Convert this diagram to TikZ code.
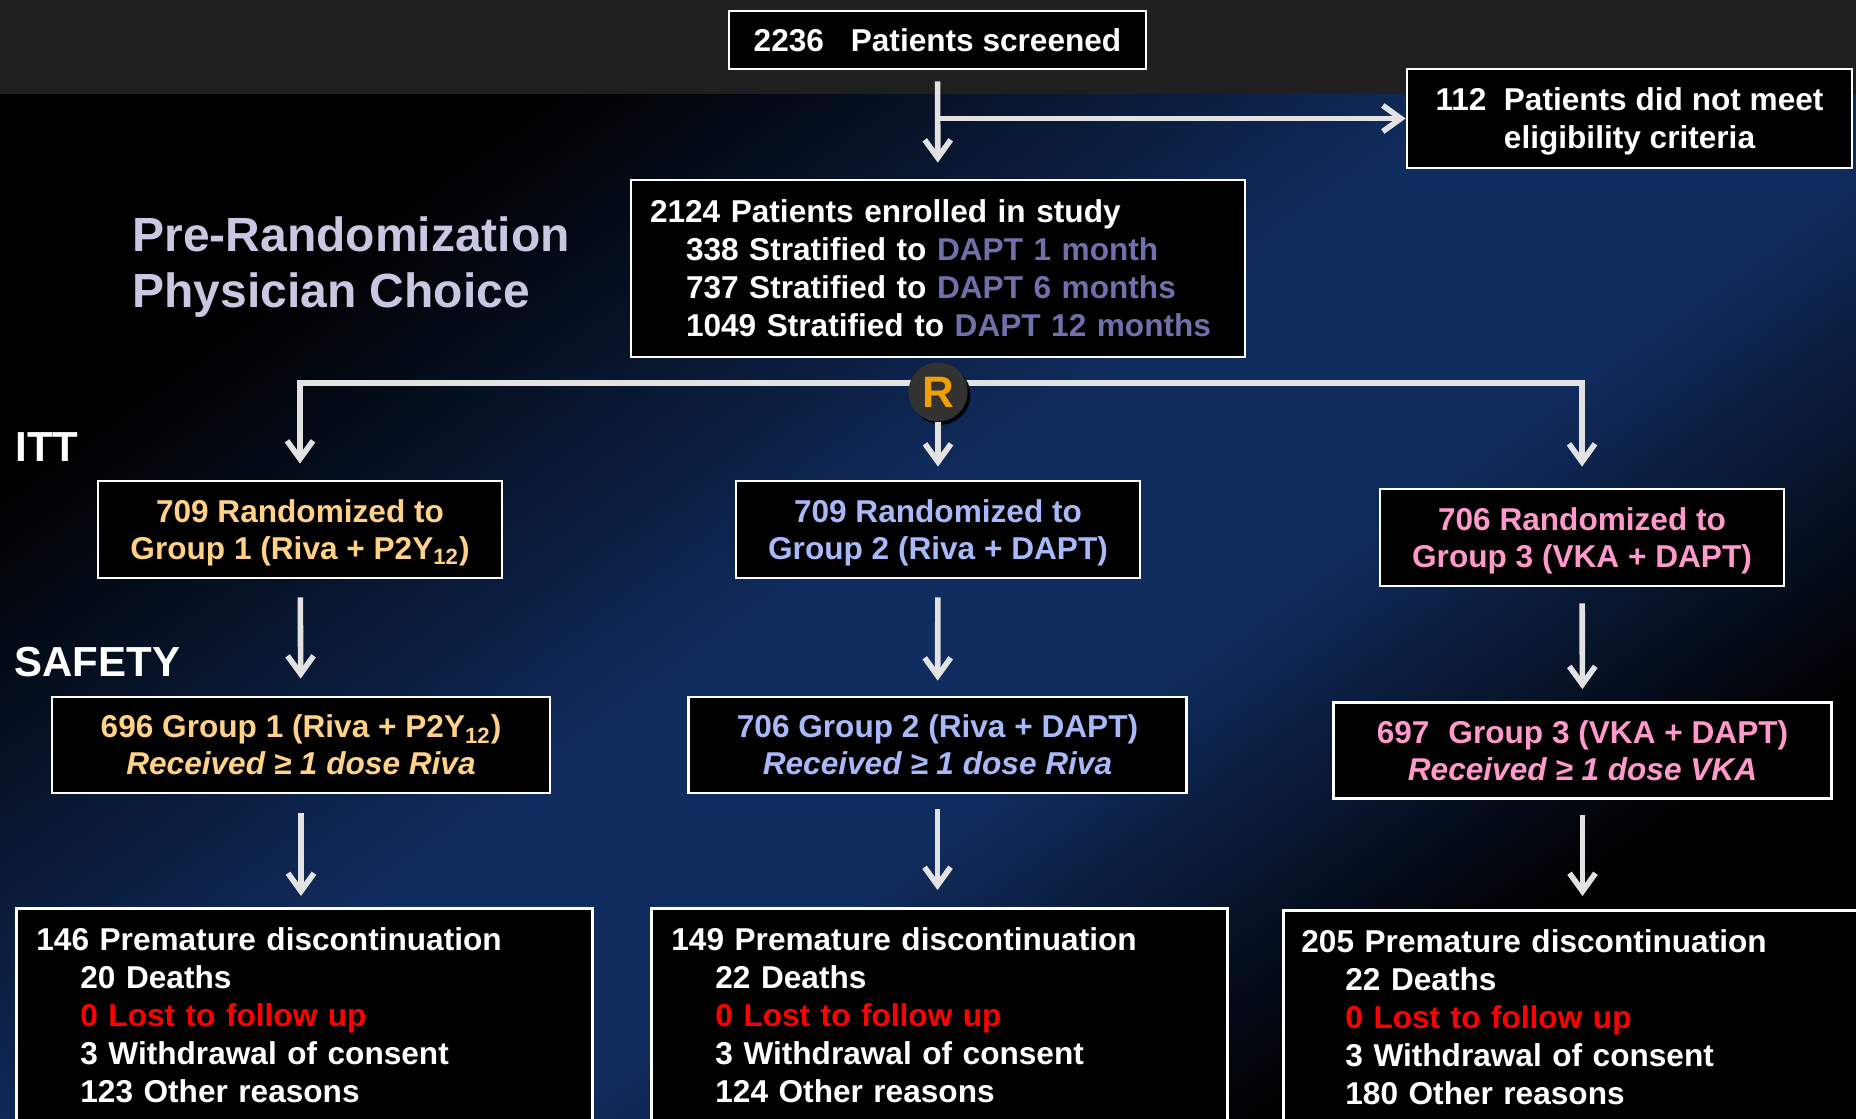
\documentclass[tikz,border=0pt]{standalone}
\usepackage{fontspec}
\setmainfont{Liberation Sans}
\usetikzlibrary{arrows.meta,shadows}
\definecolor{bandgrey}{RGB}{31,31,31}
\definecolor{navy}{RGB}{16,44,94}
\definecolor{linegrey}{RGB}{226,226,226}
\definecolor{grpA}{RGB}{255,210,135}
\definecolor{grpB}{RGB}{168,184,248}
\definecolor{grpC}{RGB}{255,153,204}
\definecolor{dapt}{RGB}{112,112,170}
\definecolor{prelav}{RGB}{200,200,226}
\definecolor{rorange}{RGB}{240,160,0}
\definecolor{rgrey}{RGB}{50,50,50}
\newcommand{\ind}[1][22pt]{\hspace*{#1}}
\pgfdeclarehorizontalshading{bgshade}{100bp}{color(0bp)=(black); color(27bp)=(black); color(47bp)=(navy); color(57bp)=(navy); color(72bp)=(black); color(100bp)=(black)}

\begin{document}
\begin{tikzpicture}[x=0.5pt, y=-0.5pt,
    every node/.style={font=\bfseries\fontsize{15.8}{18.5}\selectfont, text=white},
    box/.style={draw=white, line width=1.4pt, fill=black, align=center, inner sep=0pt},
    outbox/.style={box, anchor=north west, align=left, text width=268pt, inner xsep=10pt,
      inner ysep=9.5pt, font=\bfseries\fontsize{15.8}{19}\selectfont},
    side/.style={font=\bfseries\fontsize{21}{24}\selectfont, inner sep=0pt, anchor=west},
    arr/.style={draw=linegrey, line width=2.8pt, -{Straight Barb[length=9pt,width=13pt]},
      shorten <=8pt, shorten >=7pt},
  ]
  \useasboundingbox (0,0) rectangle (1856,1118);
  \clip (0,0) rectangle (1856,1118);
  \shade[shading=bgshade, shading angle=-54] (0,94) rectangle (1856,1118);
  \fill[bandgrey] (0,0) rectangle (1856,94);

  \node[box, minimum width=208.5pt, minimum height=29pt] (scr) at (937.5,40) {2236\hspace{0.85em}Patients screened};
  \node[box, minimum width=222.5pt, minimum height=49.5pt, font=\bfseries\fontsize{15.8}{19}\selectfont] (elig) at (1629.5,118.5) {112\hspace{0.55em}Patients did not meet\\\smash{eligibility criteria}};
  \node[box, align=left, text width=288pt, inner xsep=9.5pt, minimum height=88.5pt,
    font=\bfseries\fontsize{15.8}{19}\selectfont] (enr) at (938,268.5)
    {2124 Patients enrolled in study\\
     \ind[18pt]338 Stratified to \textcolor{dapt}{DAPT 1 month}\\
     \ind[18pt]737 Stratified to \textcolor{dapt}{DAPT 6 months}\\
     \ind[18pt]1049 Stratified to \textcolor{dapt}{DAPT 12 months}};
  \node[font=\bfseries\fontsize{24}{28}\selectfont, text=prelav, align=left, anchor=north west, inner sep=0pt] (pre) at (132,216) {Pre-Randomization\\Physician Choice};
  \node[side] (itt) at (15,447) {ITT};
  \node[side] (safe) at (14,662) {SAFETY};

  % ITT arms
  \node[box, text=grpA, minimum width=202pt, minimum height=48.5pt] (g1) at (300,529.5) {709 Randomized to\\\smash{Group 1 (Riva + P2Y\textsubscript{12})}};
  \node[box, text=grpB, minimum width=202pt, minimum height=48.5pt] (g2) at (938,529.5) {709 Randomized to\\\smash{Group 2 (Riva + DAPT)}};
  \node[box, text=grpC, minimum width=202pt, minimum height=48.5pt] (g3) at (1582,537.5) {706 Randomized to\\\smash{Group 3 (VKA + DAPT)}};

  % safety arms
  \node[box, text=grpA, minimum width=249pt, minimum height=48pt] (s1) at (301,745) {696 Group 1 (Riva + P2Y\textsubscript{12})\\\smash{\textit{Received ≥ 1 dose Riva}}};
  \node[box, text=grpB, minimum width=249pt, minimum height=48pt] (s2) at (937.5,745) {706 Group 2 (Riva + DAPT)\\\smash{\textit{Received ≥ 1 dose Riva}}};
  \node[box, text=grpC, minimum width=249pt, minimum height=48pt] (s3) at (1582.5,750.5) {697\hspace{0.6em}Group 3 (VKA + DAPT)\\\smash{\textit{Received ≥ 1 dose VKA}}};

  \node[outbox] (b1) at (15,907) {146 Premature discontinuation\\\ind 20 Deaths\\\ind\textcolor{red}{0 Lost to follow up}\\\ind 3 Withdrawal of consent\\\ind 123 Other reasons};
  \node[outbox] (b2) at (650,907) {149 Premature discontinuation\\\ind 22 Deaths\\\ind\textcolor{red}{0 Lost to follow up}\\\ind 3 Withdrawal of consent\\\ind 124 Other reasons};
  \node[outbox, text width=300pt, inner xsep=9pt] (b3) at (1282,909) {205 Premature discontinuation\\\ind 22 Deaths\\\ind\textcolor{red}{0 Lost to follow up}\\\ind 3 Withdrawal of consent\\\ind 180 Other reasons};

  \draw[arr, shorten <=5.5pt, shorten >=8pt] (scr) -- (enr);
  \coordinate (brk) at (scr.south |- elig.west);
  \draw[arr, shorten <=0pt, shorten >=0pt] (brk) -- (elig);

  \coordinate (split) at (939,383);
  \draw[arr, shorten <=0pt, shorten >=8pt] (split) -| (g1);
  \draw[arr, shorten <=0pt, shorten >=10.5pt] (split) -| (g3);
  \node[circle, fill=rgrey, minimum size=29.5pt, inner sep=0pt, text=rorange,
    font=\bfseries\fontsize{22}{22}\selectfont,
    drop shadow={shadow xshift=1.5pt, shadow yshift=-1.5pt, fill=black, opacity=0.9}] (R) at (938,392) {R};
  \draw[arr, shorten <=0pt, shorten >=6.5pt] (R) -- (g2);

  \draw[arr, shorten <=9pt, shorten >=8.5pt] (g1) -- (s1);
  \draw[arr, shorten <=9pt, shorten >=7.5pt] (g2) -- (s2);
  \draw[arr, shorten <=8pt, shorten >=6pt] (g3) -- (s3);

  \draw[arr, shorten <=9.5pt, shorten >=5.5pt] (s1) -- (s1.south |- b1.north);
  \draw[arr, shorten <=7.5pt, shorten >=8.5pt] (s2) -- (s2.south |- b2.north);
  \draw[arr, shorten <=7.5pt, shorten >=6.5pt] (s3) -- (s3.south |- b3.north);
\end{tikzpicture}
\end{document}
